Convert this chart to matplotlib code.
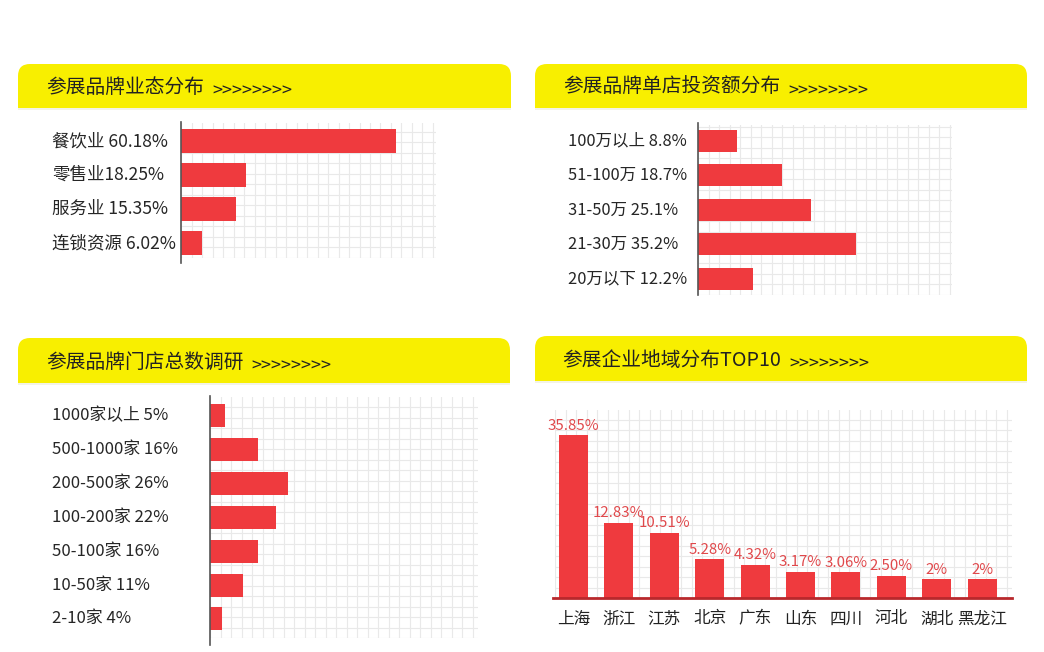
import numpy as np
import matplotlib
matplotlib.use('Agg')
import matplotlib.pyplot as plt
import matplotlib.transforms as mtransforms
from matplotlib.patches import FancyBboxPatch, Rectangle
from matplotlib.ticker import MultipleLocator

plt.rcParams['font.family'] = ['Noto Sans CJK SC', 'DejaVu Sans']

# 数据
titles = ['参展品牌业态分布', '参展品牌单店投资额分布', '参展品牌门店总数调研', '参展企业地域分布TOP10']

format_labels = ['餐饮业 60.18%', '零售业18.25%', '服务业 15.35%', '连锁资源 6.02%']
format_values = [60.18, 18.25, 15.35, 6.02]

invest_labels = ['100万以上 8.8%', '51-100万 18.7%', '31-50万 25.1%', '21-30万 35.2%', '20万以下 12.2%']
invest_values = [8.8, 18.7, 25.1, 35.2, 12.2]

store_labels = ['1000家以上 5%', '500-1000家 16%', '200-500家 26%', '100-200家 22%',
                '50-100家 16%', '10-50家 11%', '2-10家 4%']
store_values = [5, 16, 26, 22, 16, 11, 4]

region_names = ['上海', '浙江', '江苏', '北京', '广东', '山东', '四川', '河北', '湖北', '黑龙江']
region_values = [35.85, 12.83, 10.51, 5.28, 4.32, 3.17, 3.06, 2.50, 2, 2]
region_texts = ['35.85%', '12.83%', '10.51%', '5.28%', '4.32%', '3.17%', '3.06%', '2.50%', '2%', '2%']

W, H = 1044, 652
YELLOW = '#F8EF00'
RED = '#EF3A3E'

fig = plt.figure(figsize=(W / 100, H / 100), dpi=100)

# 像素坐标的背景层
bg = fig.add_axes([0, 0, 1, 1])
bg.set_xlim(0, W)
bg.set_ylim(H, 0)
bg.axis('off')


def px_rect(x0, y0, x1, y1):
    return [x0 / W, 1 - y1 / H, (x1 - x0) / W, (y1 - y0) / H]


def header(x0, y0, x1, y1, title, tx):
    h = y1 - y0
    bg.add_patch(FancyBboxPatch((x0, y0), x1 - x0, h,
                                boxstyle='round,pad=0,rounding_size=12',
                                fc=YELLOW, ec='none'))
    bg.add_patch(Rectangle((x0, y0 + h / 2), x1 - x0, h / 2, fc=YELLOW, ec='none'))
    bg.add_patch(Rectangle((x0, y1), x1 - x0, 2, fc='#F3F3E6', ec='none'))
    t = bg.text(tx, y0 + h / 2 + 1.5, title, fontsize=14.2, color='#222222', va='center', ha='left')
    bg.annotate('>>>>>>>>', xy=(1, 0), xycoords=t, xytext=(6, -2), textcoords='offset points',
                fontsize=13, color='#222222', va='bottom', ha='left')


def grid_axes(x0, y0, x1, y1, step=10.5):
    g = fig.add_axes(px_rect(x0, y0, x1, y1))
    g.set_xlim(0, x1 - x0)
    g.set_ylim(0, y1 - y0)
    g.xaxis.set_major_locator(MultipleLocator(step))
    g.yaxis.set_major_locator(MultipleLocator(step))
    g.grid(True, color='#E9E9E9', lw=0.8)
    g.tick_params(length=0, labelbottom=False, labelleft=False)
    for s in g.spines.values():
        s.set_visible(False)
    g.set_facecolor('none')
    return g


def hbar_panel(rect, labels, values, xmax, ylim, bar_h, label_x, fs):
    ax = fig.add_axes(px_rect(*rect))
    ax.set_facecolor('none')
    pos = np.arange(len(values))
    ax.barh(pos, values, height=bar_h, color=RED)
    ax.set_xlim(0, xmax)
    ax.set_ylim(*ylim)
    ax.set_xticks([])
    ax.set_yticks([])
    for s in ['top', 'right', 'bottom']:
        ax.spines[s].set_visible(False)
    ax.spines['left'].set_color('#555555')
    ax.spines['left'].set_linewidth(1.2)
    trans = mtransforms.blended_transform_factory(fig.transFigure, ax.transData)
    for i, lab in zip(pos, labels):
        ax.text(label_x / W, i, lab, transform=trans, fontsize=fs, color='#262626',
                va='center', ha='left')
    return ax


# 标题栏
header(18, 64, 511, 108, titles[0], 46)
header(535, 64, 1027, 108, titles[1], 563)
header(18, 338, 510, 383, titles[2], 46)
header(535, 336, 1027, 381, titles[3], 562)

# 图1 业态分布
grid_axes(181, 123, 436, 258)
hbar_panel((181, 122, 436, 263), format_labels, format_values, 71.5, (3.59, -0.56), 0.68, 52, 12.6)

# 图2 单店投资额
grid_axes(698, 125, 952, 295)
hbar_panel((698, 123, 952, 295), invest_labels, invest_values, 56.6, (4.47, -0.52), 0.64, 568, 11.9)

# 图3 门店总数
grid_axes(210, 397, 478, 638)
hbar_panel((210, 396, 478, 645), store_labels, store_values, 89, (6.77, -0.58), 0.68, 52, 12.1)

# 图4 地域分布
grid_axes(555, 410, 1012, 598)
ax4 = fig.add_axes(px_rect(553, 410, 1012, 598))
ax4.set_facecolor('none')
xpos = np.arange(len(region_values))
ax4.set_yscale('function', functions=(lambda v: np.power(np.maximum(v, 0), 0.75),
                                      lambda v: np.power(np.maximum(v, 0), 1 / 0.75)))
ax4.bar(xpos, region_values, width=0.64, color=RED)
ax4.set_xlim(-0.45, 9.66)
ax4.set_ylim(0, 43.5)
for i, (v, txt) in enumerate(zip(region_values, region_texts)):
    ax4.annotate(txt, (i, v), xytext=(0, 2), textcoords='offset points',
                 ha='center', va='bottom', fontsize=10.8, color='#E0484B')
ax4.set_xticks(xpos)
ax4.set_xticklabels(region_names, fontsize=12, color='#222222')
ax4.tick_params(axis='x', length=0, pad=9)
ax4.set_yticks([])
ax4.yaxis.set_minor_locator(plt.NullLocator())
for s in ['top', 'right', 'left']:
    ax4.spines[s].set_visible(False)
ax4.spines['bottom'].set_color('#B8282C')
ax4.spines['bottom'].set_linewidth(2)

fig.savefig('out.png', dpi=100)
